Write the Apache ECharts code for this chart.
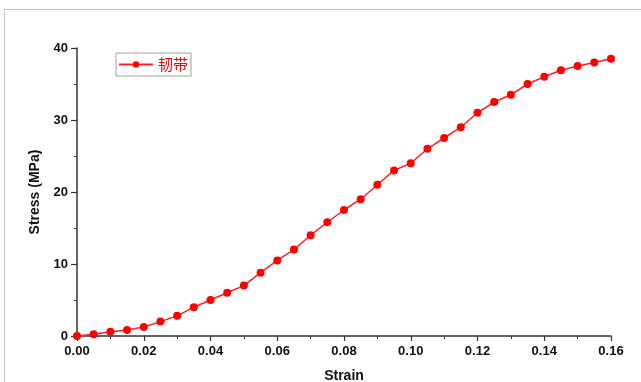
<!DOCTYPE html>
<html>
<head>
<meta charset="utf-8">
<script src="https://cdn.jsdelivr.net/npm/echarts@6/dist/echarts.min.js"></script>
<style>html,body{margin:0;padding:0;background:#fff}#c{width:641px;height:382px}</style>
</head>
<body>
<div id="c"></div>
<script>
const seriesName = '韧带';
const strain = [0, 0.005, 0.01, 0.015, 0.02, 0.025, 0.03, 0.035, 0.04, 0.045, 0.05, 0.055, 0.06, 0.065, 0.07, 0.075, 0.08, 0.085, 0.09, 0.095, 0.10, 0.105, 0.11, 0.115, 0.12, 0.125, 0.13, 0.135, 0.14, 0.145, 0.15, 0.155, 0.16];
const stress = [0, 0.25, 0.6, 0.85, 1.25, 2.0, 2.8, 4.0, 5.0, 6.0, 7.0, 8.8, 10.5, 12.0, 14.0, 15.8, 17.5, 19.0, 21.0, 23.0, 24.0, 26.0, 27.5, 29.0, 31.0, 32.5, 33.5, 35.0, 36.0, 36.9, 37.5, 38.0, 38.5];
const xTitle = 'Strain';
const yTitle = 'Stress (MPa)';

const chart = echarts.init(document.getElementById('c'), null, {renderer: 'canvas'});
const axisFont = {fontFamily: 'Liberation Sans, Arial, sans-serif', fontWeight: 'bold', fontSize: 13, color: '#111'};
chart.setOption({
  animation: false,
  backgroundColor: '#fff',
  graphic: [{
    type: 'polyline', silent: true,
    shape: {points: [[4.5, 382], [4.5, 9.5], [641, 9.5]]},
    style: {stroke: '#c4c4c4', lineWidth: 1, fill: null}
  }],
  grid: {left: 77, right: 30, top: 48, bottom: 46, containLabel: false, outerBoundsMode: 'none'},
  legend: {
    left: 116, top: 53,
    data: [seriesName],
    itemWidth: 34, itemHeight: 8, itemGap: 4,
    padding: [4, 3, 4, 2],
    borderColor: '#a0a0a0', borderWidth: 1,
    textStyle: {color: '#ff0000', fontSize: 15, fontFamily: 'Noto Sans CJK SC, sans-serif'}
  },
  xAxis: {
    type: 'value', min: 0, max: 0.16, interval: 0.02,
    name: xTitle, nameLocation: 'middle', nameGap: 33,
    nameTextStyle: {fontFamily: 'Liberation Sans, Arial, sans-serif', fontWeight: 'bold', fontSize: 14, color: '#111'},
    axisLine: {show: true, lineStyle: {color: '#333', width: 1.5}},
    axisTick: {show: true, inside: false, length: 5, lineStyle: {color: '#333', width: 1.2}},
    minorTick: {show: true, splitNumber: 2, length: 3, lineStyle: {color: '#333', width: 1}},
    splitLine: {show: false},
    axisLabel: Object.assign({margin: 9, formatter: v => v.toFixed(2)}, axisFont)
  },
  yAxis: {
    type: 'value', min: 0, max: 40, interval: 10,
    name: yTitle, nameLocation: 'middle', nameGap: 34, nameRotate: 90,
    nameTextStyle: {fontFamily: 'Liberation Sans, Arial, sans-serif', fontWeight: 'bold', fontSize: 14, color: '#111'},
    axisLine: {show: true, lineStyle: {color: '#333', width: 1.5}},
    axisTick: {show: true, inside: false, length: 6, lineStyle: {color: '#333', width: 1.2}},
    minorTick: {show: true, splitNumber: 2, length: 3, lineStyle: {color: '#333', width: 1}},
    splitLine: {show: false},
    axisLabel: Object.assign({margin: 9}, axisFont)
  },
  series: [{
    name: seriesName,
    type: 'line',
    data: strain.map((x, i) => [x, stress[i]]),
    symbol: 'circle', symbolSize: 8, showAllSymbol: true,
    itemStyle: {color: '#ff0000'},
    lineStyle: {color: '#ff2020', width: 1.5},
    clip: false
  }]
});
</script>
</body>
</html>
